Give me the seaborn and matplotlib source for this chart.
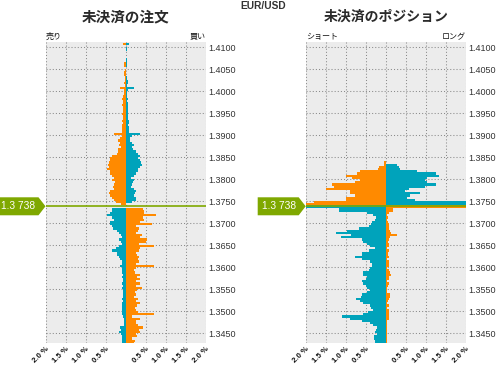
import numpy as np
import pandas as pd
import matplotlib
matplotlib.use("Agg")
import matplotlib.pyplot as plt
from matplotlib.patches import Polygon
from matplotlib.transforms import ScaledTranslation, blended_transform_factory
import seaborn as sns

# ================= DATA =================
pair = "EUR/USD"
current_price = 1.3738
bucket = 0.0005
# lower edge of each price bucket, top to bottom
price_levels = np.round(np.arange(1.4105, 1.34249, -bucket), 4)

# open orders (%), left = sell side, right = buy side
order_left = (
    [0.07, 0, 0, 0, 0, 0, 0, 0, 0, 0.03, 0.04, 0, 0.02, 0.03, 0.03, 0.02, 0.02, 0.02, 0.03, 0.02, 0.13,
     0.05, 0.04, 0.05, 0.06, 0.08, 0.06, 0.07, 0.08, 0.07, 0.06, 0.07, 0.08, 0.07, 0.06, 0.09, 0.07,
     0.08, 0.10, 0.09, 0.08, 0.28, 0.10, 0.13, 0.18, 0.14, 0.17, 0.12, 0.20, 0.18, 0.22, 0.33, 0.40,
     0.38, 0.42, 0.45, 0.42, 0.47, 0.38, 0.40, 0.35, 0.30, 0.35, 0.27, 0.28, 0.32, 0.30, 0.40, 0.42,
     0.38, 0.35, 0.30, 0.23, 0.12]
    + [0.0]
    + [0.35, 0.35, 0.38, 0.46, 0.33, 0.29, 0.38, 0.38, 0.33, 0.32, 0.21, 0.17, 0.12, 0.10, 0.17, 0.12,
       0.08, 0.17, 0.25, 0.33, 0.21, 0.22, 0.17, 0.14, 0.10, 0.08, 0.15, 0.08, 0.10, 0.08, 0.07, 0.08,
       0.07, 0.07, 0.08, 0.07, 0.08, 0.07, 0.06, 0.07, 0.07, 0.08, 0.07, 0.08, 0.10, 0.08, 0.09, 0.10,
       0.10, 0.07, 0.04, 0.04, 0.03, 0.04, 0.15, 0.12, 0.17, 0.12, 0.10, 0.10, 0.08, 0.10]
)
order_right = (
    [0.08, 0, 0.03, 0.03, 0, 0, 0, 0.04, 0.04, 0.03, 0.03, 0.02, 0.02, 0.02, 0.02, 0.03, 0.03, 0.05,
     0.05, 0.03, 0.22,
     0.05, 0.04, 0.03, 0.04, 0.05, 0.04, 0.06, 0.05, 0.06, 0.05, 0.06, 0.07, 0.07, 0.07, 0.08, 0.08,
     0.07, 0.08, 0.08, 0.08, 0.36, 0.15, 0.12, 0.12, 0.15, 0.20, 0.15, 0.18, 0.25, 0.30, 0.35, 0.30,
     0.36, 0.38, 0.40, 0.37, 0.32, 0.30, 0.25, 0.20, 0.13, 0.22, 0.18, 0.15, 0.14, 0.22, 0.25, 0.23,
     0.22, 0.25, 0.27, 0.15, 0.02]
    + [0.0]
    + [0.43, 0.46, 0.45, 0.75, 0.43, 0.46, 0.37, 0.67, 0.25, 0.33, 0.31, 0.27, 0.42, 0.37, 0.54, 0.50,
       0.33, 0.71, 0.37, 0.33, 0.25, 0.29, 0.33, 0.31, 0.33, 0.25, 0.71, 0.25, 0.20, 0.23, 0.35, 0.29,
       0.35, 0.25, 0.35, 0.25, 0.40, 0.29, 0.23, 0.27, 0.21, 0.32, 0.27, 0.35, 0.29, 0.23, 0.26, 0.30,
       0.71, 0.17, 0.35, 0.25, 0.27, 0.32, 0.43, 0.33, 0.37, 0.25, 0.29, 0.17, 0.23, 0.20]
)

# open positions (%), left = short, right = long
pos_left = (
    [0.0] * 54
    + [0.04, 0.04, 0.16, 0.20, 0.64, 0.72, 1.00, 0.85, 0.64, 0.76, 1.35, 1.30, 1.50, 0.90, 0.90, 0.76,
       1.00, 1.00, 1.80, 2.00]
    + [2.00]
    + [1.18, 1.18, 0.48, 0.31, 0.24, 0.27, 0.35, 0.37, 0.41, 0.68, 0.97, 1.24, 0.87, 1.12, 0.60, 0.58,
       0.48, 0.39, 0.27, 0.43, 0.60, 0.60, 0.77, 0.60, 0.39, 0.35, 0.35, 0.39, 0.43, 0.56, 0.56, 0.48,
       0.49, 0.60, 0.56, 0.49, 0.48, 0.39, 0.48, 0.60, 0.62, 0.74, 0.64, 0.56, 0.39, 0.37, 0.31, 0.45,
       0.58, 1.10, 0.90, 0.60, 0.39, 0.33, 0.21, 0.24, 0.27, 0.22, 0.29, 0.29, 0.28, 0.28]
)
pos_right = (
    [0.0] * 54
    + [0.0, 0.28, 0.32, 0.36, 0.78, 1.25, 1.33, 1.03, 0.98, 1.03, 1.25, 0.98, 0.57, 0.48, 0.86, 0.61,
       0.53, 0.73, 2.00, 2.00]
    + [2.00]
    + [0.17, 0.17, 0.07, 0.04, 0.05, 0.04, 0.05, 0.07, 0.07, 0.09, 0.11, 0.13, 0.27, 0.11, 0.09, 0.05,
       0.07, 0.08, 0.04, 0.07, 0.05, 0.05, 0.07, 0.04, 0.08, 0.07, 0.08, 0.04, 0.09, 0.11, 0.13, 0.09,
       0.07, 0.04, 0.07, 0.05, 0.04, 0.03, 0.04, 0.11, 0.11, 0.07, 0.05, 0.04, 0.07, 0.04, 0.09, 0.08,
       0.07, 0.09, 0.09, 0.04, 0.04, 0.03, 0.03, 0.03, 0.03, 0.03, 0.03, 0.02, 0.02, 0.02]
)

panel_titles = ["未決済の注文", "未決済のポジション"]
title_sizes = [10.5, 10]
side_labels = [("売り", "買い"), ("ショート", "ロング")]
x_ticks = [-2.0, -1.5, -1.0, -0.5, 0.0, 0.5, 1.0, 1.5, 2.0]
x_ticklabels = ["2.0 %", "1.5 %", "1.0 %", "0.5 %", "", "0.5 %", "1.0 %", "1.5 %", "2.0 %"]
y_ticks = np.round(np.arange(1.345, 1.41001, 0.005), 3)

# ================= STYLE =================
sns.set_theme(style="white")
plt.rcParams["font.family"] = ["Liberation Sans", "Noto Sans CJK JP"]

ORANGE = "#ff8a00"
TEAL = "#00a3bb"
GREEN = "#7fa800"

fig = plt.figure(figsize=(4.97, 3.65), dpi=100)
fig.patch.set_facecolor("white")

axes = [
    fig.add_axes([45.5 / 497, 22 / 365, 160 / 497, 301 / 365]),
    fig.add_axes([305.7 / 497, 22 / 365, 160 / 497, 301 / 365]),
]
panels = [(order_left, order_right), (pos_left, pos_right)]


def panel_frame(left, right):
    above = price_levels >= current_price
    centers = np.round(price_levels + bucket / 2, 5)
    left = np.array(left, dtype=float)
    right = np.array(right, dtype=float)
    return pd.DataFrame({
        "price": np.concatenate([centers, centers]),
        "pct": np.concatenate([-left, right]),
        "color": np.concatenate([np.where(above, "orange", "teal"),
                                 np.where(above, "teal", "orange")]),
    })


for ax, (left, right), title, tsize, (lab_l, lab_r) in zip(
        axes, panels, panel_titles, title_sizes, side_labels):
    df = panel_frame(left, right)
    ax.set_facecolor("#ececec")
    sns.barplot(
        data=df, x="pct", y="price", hue="color",
        palette={"orange": ORANGE, "teal": TEAL},
        orient="y", native_scale=True, dodge=False, width=1,
        errorbar=None, saturation=1, linewidth=0, legend=False, ax=ax,
    )
    ax.set_xlim(-2, 2)
    ax.set_ylim(1.34273, 1.41114)
    ax.set_xlabel("")
    ax.set_ylabel("")

    ax.set_axisbelow(True)
    ax.grid(True, color="#8a8a8a", linestyle=(0, (1, 2)), linewidth=0.75)
    for s in ax.spines.values():
        s.set_visible(False)

    ax.set_xticks(x_ticks)
    ax.set_xticklabels(x_ticklabels, rotation=45, ha="right", rotation_mode="anchor",
                       fontsize=5.6, fontweight="bold", color="#111")
    ax.set_yticks(y_ticks)
    ax.set_yticklabels([f"{v:.4f}" for v in y_ticks], fontsize=6.5, color="#333")
    ax.yaxis.tick_right()
    ax.tick_params(axis="y", length=0, pad=2)
    ax.tick_params(axis="x", length=0, pad=1.5)

    # current price line
    ax.axhline(current_price, color=GREEN, linewidth=1.2, zorder=5)

    ax.text(0, 1.004, lab_l, transform=ax.transAxes, ha="left", va="bottom",
            fontsize=5.8, color="#111")
    ax.text(1, 1.004, lab_r, transform=ax.transAxes, ha="right", va="bottom",
            fontsize=5.8, color="#111")

    fig.text(ax.get_position().x0 + ax.get_position().width / 2, 1 - 17 / 365, title,
             ha="center", va="center", fontsize=tsize, fontweight="bold", color="#2a2a2a")

    # price tag on the left edge
    anchor = blended_transform_factory(ax.transAxes, ax.transData)
    tr = fig.dpi_scale_trans + ScaledTranslation(0, current_price, anchor)
    tag = Polygon([(-0.48, -0.09), (-0.07, -0.09), (0, 0), (-0.07, 0.09), (-0.48, 0.09)],
                  closed=True, transform=tr, facecolor=GREEN, edgecolor="none", zorder=-1)
    fig.add_artist(tag)
    ax.annotate("1.3 738", xy=(0, current_price), xycoords=anchor, xytext=(-27, 0),
                textcoords="offset pixels", ha="center", va="center",
                fontsize=7.3, color="white", annotation_clip=False, zorder=10)

fig.text(263.5 / 497, 1 - 6 / 365, pair, ha="center", va="center",
         fontsize=7.3, fontweight="bold", color="#333")

plt.savefig("out.png", dpi=100)
